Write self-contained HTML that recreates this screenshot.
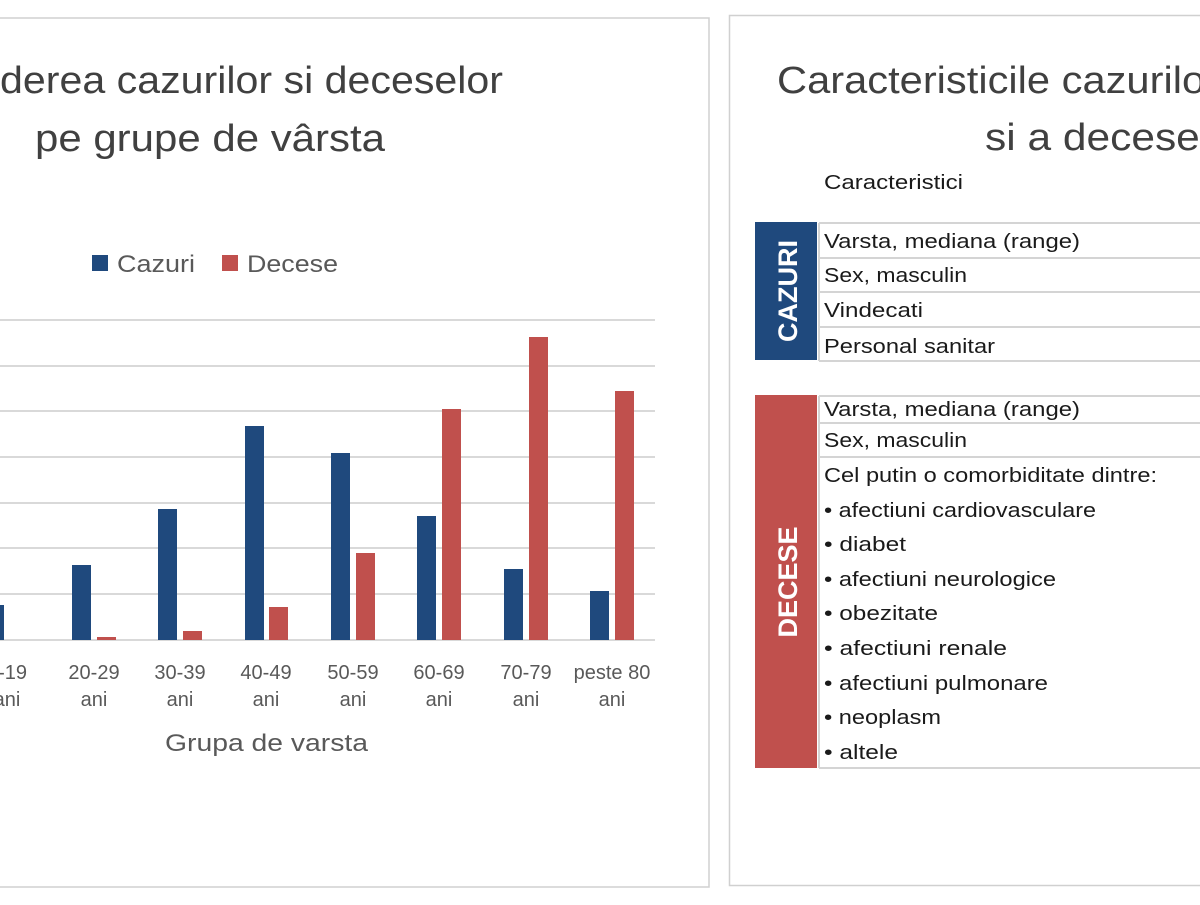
<!DOCTYPE html>
<html><head><meta charset="utf-8"><style>
body{margin:0;width:1200px;height:900px;background:#fff;overflow:hidden;font-family:"Liberation Sans","DejaVu Sans",sans-serif;}
</style></head><body>
<svg width="1200" height="900" xmlns="http://www.w3.org/2000/svg" font-family="Liberation Sans, DejaVu Sans, sans-serif">
<rect x="-5" y="18" width="714" height="869" fill="#fff" stroke="#d0d0d0" stroke-width="1.5"/>
<rect x="729.5" y="15.5" width="480" height="870" fill="#fff" stroke="#d0d0d0" stroke-width="1.5"/>
<g fill="#404040" font-size="38">
<text x="0" y="93" textLength="503" lengthAdjust="spacingAndGlyphs">derea cazurilor si deceselor</text>
<text x="35" y="151" textLength="350" lengthAdjust="spacingAndGlyphs">pe grupe de vârsta</text>
<text x="777" y="93" textLength="442" lengthAdjust="spacingAndGlyphs">Caracteristicile cazurilor</text>
<text x="985" y="150" textLength="262" lengthAdjust="spacingAndGlyphs">si a deceselor</text>
</g>
<rect x="92" y="255" width="16" height="16" fill="#1f497d"/>
<text x="117" y="272" font-size="24" fill="#595959" textLength="78" lengthAdjust="spacingAndGlyphs">Cazuri</text>
<rect x="222" y="255" width="16" height="16" fill="#c0504d"/>
<text x="247" y="272" font-size="24" fill="#595959" textLength="91" lengthAdjust="spacingAndGlyphs">Decese</text>
<g stroke="#d9d9d9" stroke-width="2">
<line x1="0" x2="655" y1="320" y2="320"/><line x1="0" x2="655" y1="366" y2="366"/>
<line x1="0" x2="655" y1="411" y2="411"/><line x1="0" x2="655" y1="457" y2="457"/>
<line x1="0" x2="655" y1="503" y2="503"/><line x1="0" x2="655" y1="548" y2="548"/>
<line x1="0" x2="655" y1="594" y2="594"/><line x1="0" x2="655" y1="640" y2="640"/>
</g>
<g fill="#1f497d">
<rect x="-15" y="605" width="19" height="35"/><rect x="72" y="565" width="19" height="75"/>
<rect x="158" y="509" width="19" height="131"/><rect x="245" y="426" width="19" height="214"/>
<rect x="331" y="453" width="19" height="187"/><rect x="417" y="516" width="19" height="124"/>
<rect x="504" y="569" width="19" height="71"/><rect x="590" y="591" width="19" height="49"/>
</g>
<g fill="#c0504d">
<rect x="97" y="637" width="19" height="3"/><rect x="183" y="631" width="19" height="9"/>
<rect x="269" y="607" width="19" height="33"/><rect x="356" y="553" width="19" height="87"/>
<rect x="442" y="409" width="19" height="231"/><rect x="529" y="337" width="19" height="303"/>
<rect x="615" y="391" width="19" height="249"/>
</g>
<g fill="#595959" font-size="20" text-anchor="middle">
<text x="7" y="679">0-19</text><text x="7" y="706">ani</text>
<text x="94" y="679">20-29</text><text x="94" y="706">ani</text>
<text x="180" y="679">30-39</text><text x="180" y="706">ani</text>
<text x="266" y="679">40-49</text><text x="266" y="706">ani</text>
<text x="353" y="679">50-59</text><text x="353" y="706">ani</text>
<text x="439" y="679">60-69</text><text x="439" y="706">ani</text>
<text x="526" y="679">70-79</text><text x="526" y="706">ani</text>
<text x="612" y="679">peste 80</text><text x="612" y="706">ani</text>
</g>
<text x="165" y="751" font-size="24" fill="#595959" textLength="203" lengthAdjust="spacingAndGlyphs">Grupa de varsta</text>
<text x="824" y="189" font-size="20" fill="#1a1a1a" textLength="139" lengthAdjust="spacingAndGlyphs">Caracteristici</text>
<rect x="755" y="222" width="62" height="138" fill="#1f497d"/>
<text transform="translate(797,291) rotate(-90)" text-anchor="middle" font-size="27" font-weight="bold" fill="#fff">CAZURI</text>
<rect x="755" y="395" width="62" height="373" fill="#c0504d"/>
<text transform="translate(797,582) rotate(-90)" text-anchor="middle" font-size="27" font-weight="bold" fill="#fff">DECESE</text>
<g stroke="#d4d4d4" stroke-width="2">
<line x1="819" x2="1200" y1="223" y2="223"/><line x1="819" x2="1200" y1="258" y2="258"/>
<line x1="819" x2="1200" y1="292" y2="292"/><line x1="819" x2="1200" y1="327" y2="327"/>
<line x1="819" x2="1200" y1="361" y2="361"/>
<line x1="819" x2="1200" y1="396" y2="396"/><line x1="819" x2="1200" y1="423" y2="423"/>
<line x1="819" x2="1200" y1="457" y2="457"/><line x1="819" x2="1200" y1="768" y2="768"/>
<line x1="819" x2="819" y1="223" y2="361"/><line x1="819" x2="819" y1="396" y2="768"/>
</g>
<g font-size="20" fill="#1a1a1a">
<text x="824" y="248" textLength="256" lengthAdjust="spacingAndGlyphs">Varsta, mediana (range)</text>
<text x="824" y="282" textLength="143" lengthAdjust="spacingAndGlyphs">Sex, masculin</text>
<text x="824" y="317" textLength="99" lengthAdjust="spacingAndGlyphs">Vindecati</text>
<text x="824" y="353" textLength="171" lengthAdjust="spacingAndGlyphs">Personal sanitar</text>
<text x="824" y="416" textLength="256" lengthAdjust="spacingAndGlyphs">Varsta, mediana (range)</text>
<text x="824" y="447" textLength="143" lengthAdjust="spacingAndGlyphs">Sex, masculin</text>
<text x="824" y="482" textLength="333" lengthAdjust="spacingAndGlyphs">Cel putin o comorbiditate dintre:</text>
<text x="824" y="517" textLength="272" lengthAdjust="spacingAndGlyphs">• afectiuni cardiovasculare</text>
<text x="824" y="551" textLength="82" lengthAdjust="spacingAndGlyphs">• diabet</text>
<text x="824" y="586" textLength="232" lengthAdjust="spacingAndGlyphs">• afectiuni neurologice</text>
<text x="824" y="620" textLength="114" lengthAdjust="spacingAndGlyphs">• obezitate</text>
<text x="824" y="655" textLength="183" lengthAdjust="spacingAndGlyphs">• afectiuni renale</text>
<text x="824" y="690" textLength="224" lengthAdjust="spacingAndGlyphs">• afectiuni pulmonare</text>
<text x="824" y="724" textLength="117" lengthAdjust="spacingAndGlyphs">• neoplasm</text>
<text x="824" y="759" textLength="74" lengthAdjust="spacingAndGlyphs">• altele</text>
</g>
</svg>
</body></html>
